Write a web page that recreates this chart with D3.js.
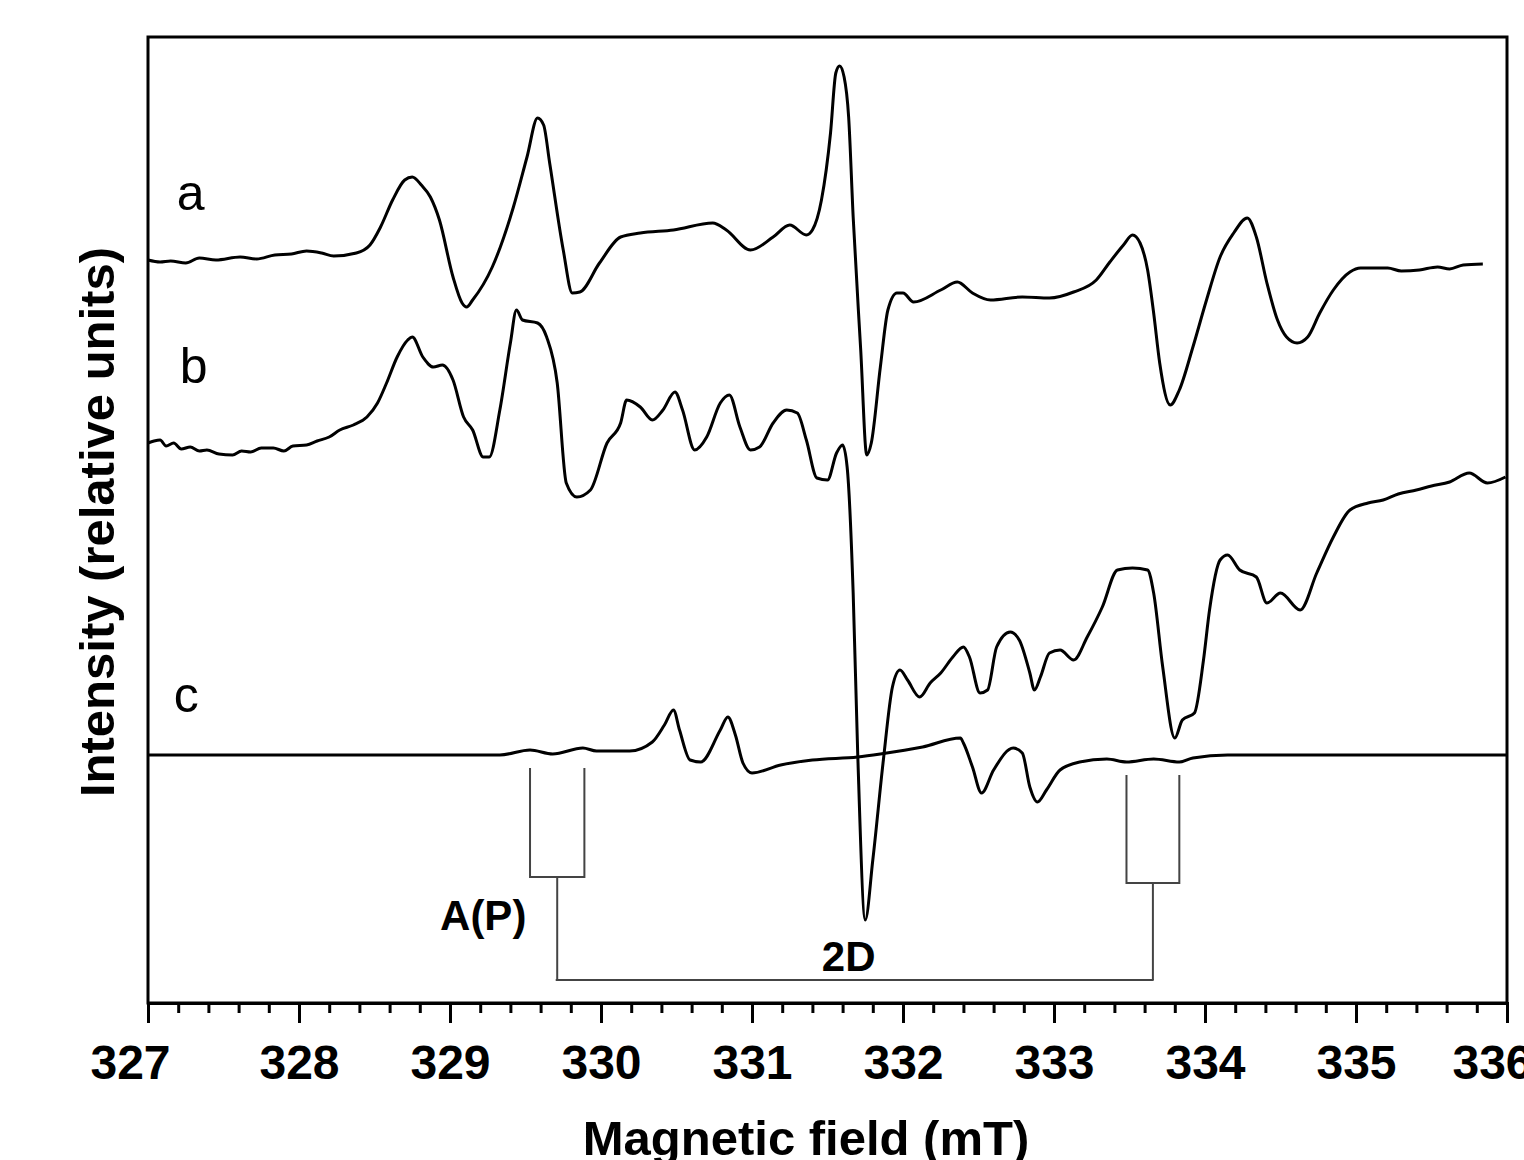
<!DOCTYPE html>
<html>
<head>
<meta charset="utf-8">
<script src="https://cdn.jsdelivr.net/npm/d3@7"></script>
<style>
  html, body { margin: 0; padding: 0; background: #fff; overflow: hidden; }
  svg { display: block; }
  text { font-family: "Liberation Sans", Arial, sans-serif; fill: #000; }
</style>
</head>
<body>
<svg id="chart" width="1524" height="1160"></svg>
<script>
// EPR spectra: magnetic field (mT) vs. intensity (relative units), three traces offset vertically
const fieldTicks = [327, 328, 329, 330, 331, 332, 333, 334, 335, 336];

const spectrumA = [
  [327.00,49.5],[327.08,49.3],[327.15,49.4],[327.25,49.2],[327.34,49.7],[327.45,49.5],[327.61,49.8],
  [327.72,49.6],[327.84,50.0],[327.95,50.1],[328.05,50.4],[328.15,50.2],[328.23,49.9],
  [328.38,50.2],[328.47,51.0],[328.54,52.8],[328.62,55.5],[328.70,57.5],[328.75,57.8],[328.81,57.0],
  [328.87,55.8],[328.93,53.5],[329.02,47.8],[329.08,45.2],[329.11,44.8],[329.15,45.5],[329.28,48.8],
  [329.42,54.8],[329.51,59.8],[329.58,63.7],[329.62,63.0],[329.66,59.2],[329.75,50.5],[329.81,46.2],
  [329.86,46.3],[329.99,49.2],[330.13,51.8],[330.26,52.2],[330.48,52.5],[330.74,53.2],[330.83,52.5],
  [330.99,50.5],[331.14,51.8],[331.25,53.0],[331.36,52.0],[331.40,52.5],[331.46,55.5],[331.52,62.2],
  [331.555,68.2],[331.58,68.9],[331.61,67.8],[331.64,63.8],[331.67,53.8],[331.72,40.5],[331.76,30.0],[331.79,31.2],
  [331.85,38.8],[331.90,44.5],[331.96,46.2],[332.00,46.2],[332.07,45.3],[332.25,46.5],[332.36,47.3],
  [332.46,46.2],[332.58,45.5],[332.79,45.8],[332.97,45.7],[333.13,46.3],[333.28,47.5],[333.37,49.3],
  [333.46,51.0],[333.52,52.0],[333.57,51.2],[333.62,48.5],[333.66,44.2],[333.70,39.2],[333.77,35.0],
  [333.83,36.5],[333.92,40.8],[334.01,45.5],[334.10,49.8],[334.19,52.2],[334.28,53.7],[334.34,51.8],
  [334.41,47.2],[334.48,43.5],[334.54,41.8],[334.61,41.2],[334.68,41.8],[334.76,44.2],[334.85,46.5],
  [334.96,48.3],[335.03,48.7],[335.21,48.7],[335.30,48.4],[335.42,48.5],[335.54,48.8],[335.62,48.6],
  [335.71,49.0],[335.84,49.1]
];

const spectrumB = [
  [327.00,31.2],[327.04,31.4],[327.08,31.5],[327.12,30.9],[327.17,31.2],[327.22,30.6],[327.28,30.8],
  [327.34,30.4],[327.39,30.5],[327.47,30.1],[327.56,30.0],[327.62,30.4],[327.68,30.3],[327.75,30.7],
  [327.83,30.7],[327.90,30.4],[327.96,30.9],[328.05,31.0],[328.12,31.4],[328.20,31.8],[328.27,32.5],
  [328.36,33.0],[328.45,33.8],[328.52,35.2],[328.58,37.2],[328.65,39.8],[328.72,41.5],
  [328.75,41.8],[328.82,39.8],[328.89,38.8],[328.95,39.0],[329.02,37.5],[329.09,33.8],[329.15,32.5],
  [329.22,29.8],[329.26,29.8],[329.33,34.5],[329.40,41.2],[329.44,44.5],[329.48,43.5],[329.58,43.2],
  [329.64,41.8],[329.71,37.2],[329.77,27.2],[329.84,25.8],[329.93,26.5],[330.04,31.2],[330.13,33.2],
  [330.17,35.5],[330.26,34.8],[330.34,33.5],[330.41,34.5],[330.49,36.3],[330.54,34.5],[330.62,30.5],
  [330.70,31.8],[330.79,35.2],[330.85,36.0],[330.92,32.8],[330.99,30.5],[331.05,30.8],[331.14,33.2],
  [331.23,34.5],[331.30,34.2],[331.36,31.5],[331.43,27.7],[331.50,27.5],[331.56,30.2],[331.60,31.0],
  [331.63,28.8],[331.67,16.2],[331.70,0.2],[331.75,-16.5],[331.80,-10.5],[331.87,-0.5],[331.93,6.8],
  [331.98,8.5],[332.03,7.5],[332.11,5.8],[332.18,7.2],[332.25,8.2],[332.33,9.8],[332.40,10.8],
  [332.44,9.8],[332.51,6.2],[332.56,6.5],[332.62,10.8],[332.71,12.3],[332.77,11.5],[332.84,8.2],
  [332.87,6.5],[332.91,7.8],[332.97,10.2],[333.04,10.5],[333.13,9.5],[333.22,11.8],[333.32,14.8],
  [333.42,18.5],[333.52,18.7],[333.62,18.5],[333.66,16.2],[333.72,8.8],[333.80,1.7],[333.85,3.5],
  [333.93,4.2],[333.99,9.5],[334.03,14.5],[334.10,19.5],[334.15,20.0],[334.23,18.5],[334.34,17.8],
  [334.41,15.2],[334.50,16.2],[334.63,14.5],[334.74,18.2],[334.85,21.8],[334.96,24.5],[335.08,25.2],
  [335.18,25.5],[335.28,26.1],[335.40,26.5],[335.50,26.9],[335.62,27.3],[335.75,28.2],[335.87,27.2],
  [335.99,27.8]
];

const spectrumC = [
  [327.00,0.0],[329.33,0.0],[329.53,0.5],[329.68,0.1],[329.88,0.7],[329.97,0.4],[330.19,0.4],
  [330.34,1.3],[330.42,3.0],[330.48,4.5],[330.52,2.5],[330.59,-0.5],[330.66,-0.7],[330.79,2.5],
  [330.84,3.8],[330.89,2.0],[330.94,-0.8],[331.00,-1.8],[331.19,-1.0],[331.40,-0.5],[331.70,-0.2],
  [331.85,0.1],[332.13,0.8],[332.38,1.7],[332.40,1.2],[332.46,-1.2],[332.52,-3.8],[332.60,-1.5],
  [332.73,0.7],[332.79,0.2],[332.84,-3.2],[332.89,-4.7],[332.95,-3.5],[333.04,-1.5],[333.17,-0.7],
  [333.35,-0.4],[333.48,-0.7],[333.66,-0.4],[333.83,-0.7],[333.92,-0.3],[334.15,0.0],[336.00,0.0]
];

const traceNames = ["a", "b", "c"];
const traceLabelPos = [[327.19, 54.5], [327.21, 37.2], [327.17, 4.3]];

// hyperfine splitting markers: [left field, right field, top, bottom]
const bracketsAP = [[329.53, 329.89, -1.3, -12.2], [333.48, 333.83, -2.0, -12.8]];
const splitting2D = { from: 329.70, to: 333.66, level: -22.5 };
const annotations = [["A(P)", 329.22, -17.5], ["2D", 331.64, -21.6]];

const margin = { left: 148, right: 17, top: 37, bottom: 157 };
const W = 1524, H = 1160;
const svg = d3.select("#chart");

const x = d3.scaleLinear().domain([327, 336]).range([margin.left, W - margin.right]);
const y = d3.scaleLinear().domain([-24.8, 71.8]).range([H - margin.bottom, margin.top]);

const line = d3.line().x(d => x(d[0])).y(d => y(d[1])).curve(d3.curveMonotoneX);

// spectra
[spectrumA, spectrumB, spectrumC].forEach(s => {
  svg.append("path").datum(s).attr("d", line)
    .attr("fill", "none").attr("stroke", "#000").attr("stroke-width", 3)
    .attr("stroke-linejoin", "round");
});

// trace labels
svg.selectAll("text.trace").data(traceNames).enter().append("text")
  .attr("class", "trace")
  .attr("x", (d, i) => x(traceLabelPos[i][0]))
  .attr("y", (d, i) => y(traceLabelPos[i][1]))
  .attr("font-size", 50)
  .text(d => d);

// splitting markers
const mk = svg.append("g").attr("stroke", "#444").attr("stroke-width", 2).attr("fill", "none");
bracketsAP.forEach(b => {
  mk.append("path").attr("d",
    `M${x(b[0])},${y(b[2])}V${y(b[3])}H${x(b[1])}V${y(b[2])}`);
  mk.append("line")
    .attr("x1", x((b[0] + b[1]) / 2)).attr("x2", x((b[0] + b[1]) / 2))
    .attr("y1", y(b[3])).attr("y2", y(splitting2D.level));
});
mk.append("line")
  .attr("x1", x(splitting2D.from)).attr("x2", x(splitting2D.to))
  .attr("y1", y(splitting2D.level)).attr("y2", y(splitting2D.level));

annotations.forEach(a => {
  svg.append("text").attr("x", x(a[1])).attr("y", y(a[2]))
    .attr("text-anchor", "middle").attr("font-size", 42).attr("font-weight", "bold")
    .text(a[0]);
});

// frame
svg.append("rect")
  .attr("x", margin.left).attr("y", margin.top)
  .attr("width", W - margin.right - margin.left)
  .attr("height", H - margin.bottom - margin.top)
  .attr("fill", "none").attr("stroke", "#000").attr("stroke-width", 3);

// x axis: major ticks every 1 mT, minor every 0.2 mT
const xAxisMinor = d3.axisBottom(x).tickValues(d3.range(327, 336.001, 0.2)).tickSize(10).tickFormat("");
const xAxisMajor = d3.axisBottom(x).tickValues(fieldTicks).tickSize(20).tickPadding(22).tickFormat(d3.format("d"));

const gMinor = svg.append("g").attr("transform", `translate(0,${H - margin.bottom})`).call(xAxisMinor);
gMinor.select(".domain").remove();
gMinor.selectAll("line").attr("stroke", "#000").attr("stroke-width", 3);

const gMajor = svg.append("g").attr("transform", `translate(0,${H - margin.bottom})`).call(xAxisMajor);
gMajor.select(".domain").attr("stroke", "#000").attr("stroke-width", 3);
gMajor.selectAll("line").attr("stroke", "#000").attr("stroke-width", 3);
gMajor.selectAll("text")
  .attr("font-family", '"Liberation Sans", Arial, sans-serif')
  .attr("font-size", 48).attr("font-weight", "bold").attr("fill", "#000")
  // end labels sit a little left of their ticks
  .attr("dx", d => (d === 327 ? -18 : d === 336 ? -15 : 0));

// axis titles
svg.append("text")
  .attr("x", 806).attr("y", 1155)
  .attr("text-anchor", "middle").attr("font-size", 49).attr("font-weight", "bold")
  .text("Magnetic field (mT)");

svg.append("text")
  .attr("transform", "translate(114,522) rotate(-90)")
  .attr("text-anchor", "middle").attr("font-size", 49).attr("font-weight", "bold")
  .text("Intensity (relative units)");
</script>
</body>
</html>
